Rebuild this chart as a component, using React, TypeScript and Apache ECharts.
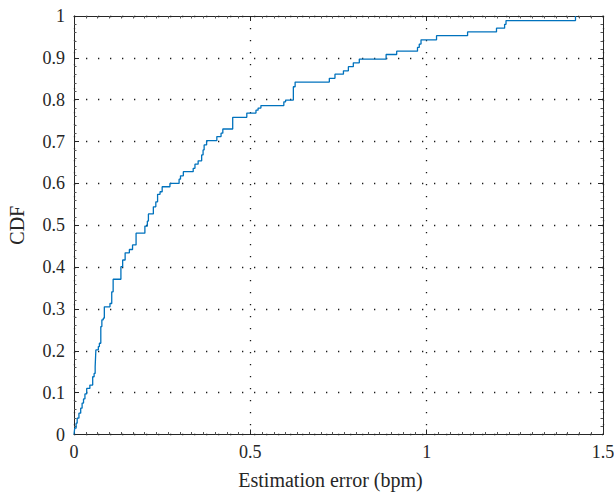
import React, { useEffect, useRef } from "react";
import * as echarts from "echarts";

// Empirical CDF: jump positions (estimation error, bpm) and CDF level after each jump
const errorValues = [
  0, 0.002, 0.006, 0.009, 0.014, 0.019, 0.023, 0.027, 0.031, 0.036, 0.045, 0.053, 0.057, 0.06,
  0.062, 0.069, 0.072, 0.076, 0.079, 0.083, 0.086, 0.102, 0.107, 0.111, 0.133, 0.138, 0.145,
  0.157, 0.166, 0.176, 0.201, 0.208, 0.211, 0.225, 0.232, 0.237, 0.244, 0.25, 0.272, 0.298,
  0.302, 0.31, 0.338, 0.343, 0.352, 0.362, 0.366, 0.369, 0.376, 0.405, 0.417, 0.422, 0.45,
  0.49, 0.516, 0.522, 0.53, 0.595, 0.6, 0.622, 0.627, 0.724, 0.74, 0.764, 0.778, 0.792, 0.809,
  0.885, 0.915, 0.974, 0.979, 0.984, 1.028, 1.116, 1.198, 1.221, 1.225, 1.422,
];
const cdfValues = [
  0, 0.015, 0.027, 0.039, 0.051, 0.063, 0.075, 0.085, 0.097, 0.11, 0.118, 0.138, 0.146, 0.162,
  0.202, 0.21, 0.218, 0.258, 0.274, 0.278, 0.305, 0.313, 0.341, 0.371, 0.401, 0.417, 0.434,
  0.442, 0.453, 0.481, 0.498, 0.51, 0.527, 0.544, 0.556, 0.574, 0.58, 0.592, 0.6, 0.61, 0.618,
  0.628, 0.636, 0.646, 0.654, 0.668, 0.68, 0.692, 0.702, 0.712, 0.72, 0.73, 0.758, 0.768,
  0.775, 0.78, 0.786, 0.795, 0.799, 0.831, 0.842, 0.851, 0.861, 0.869, 0.879, 0.888, 0.897,
  0.908, 0.916, 0.925, 0.933, 0.943, 0.953, 0.962, 0.971, 0.98, 0.989, 1.0,
];

const xTicks = { min: 0, max: 1.5, interval: 0.5 };
const yTicks = { min: 0, max: 1, interval: 0.1 };
const xLabel = "Estimation error (bpm)";
const yLabel = "CDF";

const AXIS_COLOR = "#262626";
const FONT = "'Liberation Serif', 'DejaVu Serif', serif";

export default function App() {
  const ref = useRef<HTMLDivElement>(null);

  useEffect(() => {
    document.body.style.margin = "0";
    if (!ref.current) return;
    const chart = echarts.init(ref.current, null, { renderer: "svg" });

    const data = errorValues.map((x, i) => [x, cdfValues[i]]);

    const gridLine = {
      show: true,
      lineStyle: { color: "#1a1a1a", width: 1.3, type: [1.3, 10.7] as any },
    };

    const baseX = {
      type: "value" as const,
      min: xTicks.min,
      max: xTicks.max,
      interval: xTicks.interval,
      axisLine: { show: true, onZero: false, lineStyle: { color: AXIS_COLOR, width: 1 } },
      axisTick: { show: true, inside: true, length: 5, lineStyle: { color: AXIS_COLOR } },
      minorTick: { show: true, splitNumber: 15, length: 2.5, lineStyle: { color: "#555" } },
    };
    const baseY = {
      type: "value" as const,
      min: yTicks.min,
      max: yTicks.max,
      interval: yTicks.interval,
      axisLine: { show: true, onZero: false, lineStyle: { color: AXIS_COLOR, width: 1 } },
      axisTick: { show: true, inside: true, length: 5, lineStyle: { color: AXIS_COLOR } },
      minorTick: { show: true, splitNumber: 5, length: 2.5, lineStyle: { color: "#555" } },
    };

    chart.setOption({
      animation: false,
      backgroundColor: "#ffffff",
      textStyle: { fontFamily: FONT },
      grid: {
        left: 74,
        right: 11,
        top: 16,
        bottom: 63.5,
        containLabel: false,
        outerBoundsMode: "none",
      } as any,
      xAxis: [
        {
          ...baseX,
          position: "bottom",
          name: xLabel,
          nameLocation: "middle",
          nameGap: 35,
          nameTextStyle: {
            fontFamily: FONT,
            fontSize: 20,
            color: AXIS_COLOR,
            padding: [0, 16, 0, 0],
          },
          axisLabel: { fontFamily: FONT, fontSize: 18, color: AXIS_COLOR, margin: 8 },
          splitLine: gridLine,
        },
        {
          ...baseX,
          position: "top",
          axisLabel: { show: false },
          splitLine: { show: false },
        },
      ],
      yAxis: [
        {
          ...baseY,
          position: "left",
          name: yLabel,
          nameLocation: "middle",
          nameGap: 47,
          nameTextStyle: { fontFamily: FONT, fontSize: 20, color: AXIS_COLOR },
          axisLabel: { fontFamily: FONT, fontSize: 18, color: AXIS_COLOR, margin: 9 },
          splitLine: gridLine,
        },
        {
          ...baseY,
          position: "right",
          axisLabel: { show: false },
          splitLine: { show: false },
        },
      ],
      series: [
        {
          type: "line",
          step: "end",
          data,
          xAxisIndex: 0,
          yAxisIndex: 0,
          showSymbol: false,
          symbol: "none",
          lineStyle: { color: "#0072BD", width: 1.3 },
          z: 5,
        },
      ],
    });

    return () => chart.dispose();
  }, []);

  return <div ref={ref} style={{ width: 614, height: 498 }} />;
}
